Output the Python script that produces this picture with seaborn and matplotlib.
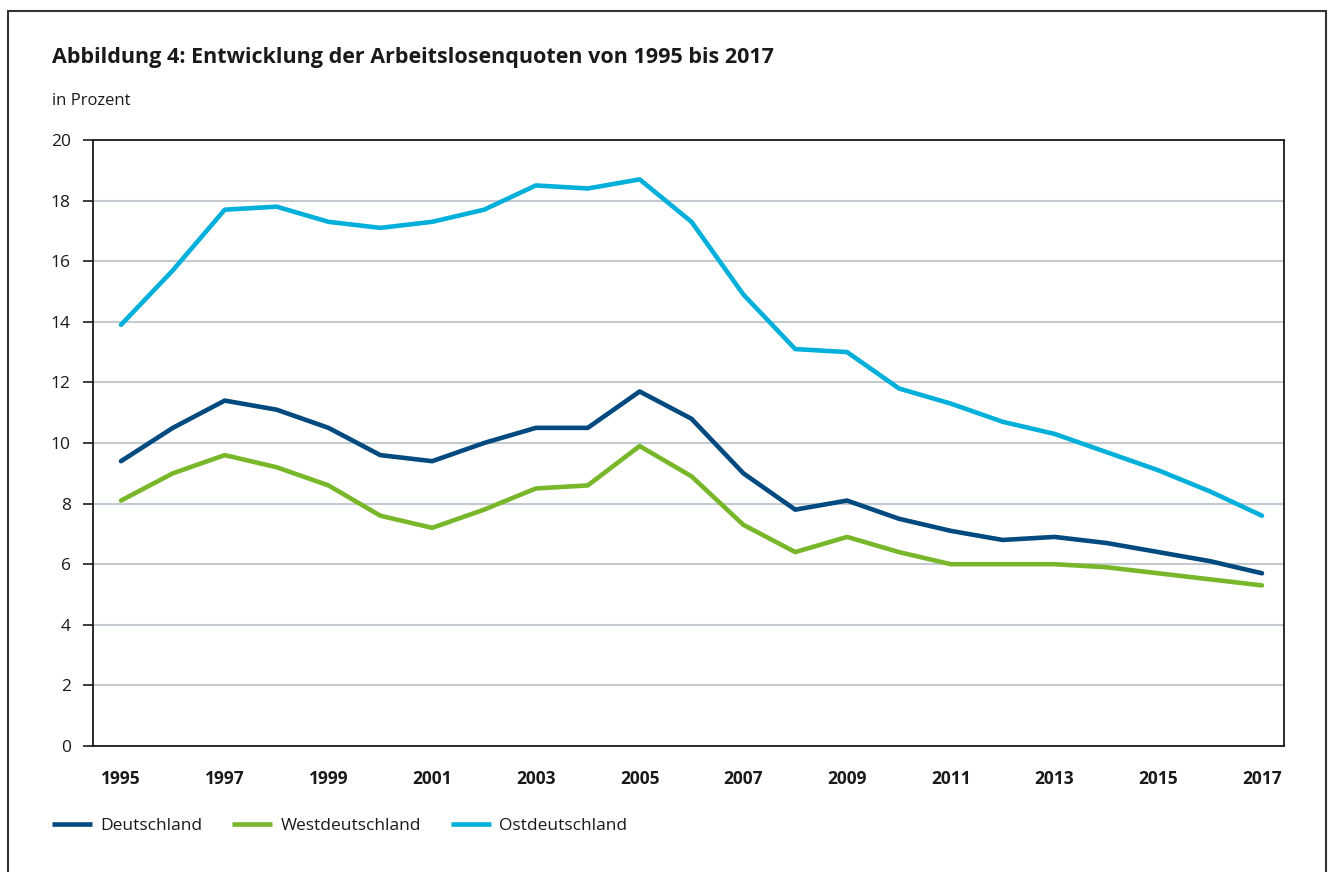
import matplotlib
matplotlib.use("Agg")
import matplotlib.pyplot as plt
import seaborn as sns
import pandas as pd
from matplotlib.patches import Rectangle
from matplotlib.lines import Line2D

years = list(range(1995, 2018))
deutschland = [9.4, 10.5, 11.4, 11.1, 10.5, 9.6, 9.4, 10.0, 10.5, 10.5, 11.7, 10.8,
               9.0, 7.8, 8.1, 7.5, 7.1, 6.8, 6.9, 6.7, 6.4, 6.1, 5.7]
westdeutschland = [8.1, 9.0, 9.6, 9.2, 8.6, 7.6, 7.2, 7.8, 8.5, 8.6, 9.9, 8.9,
                   7.3, 6.4, 6.9, 6.4, 6.0, 6.0, 6.0, 5.9, 5.7, 5.5, 5.3]
ostdeutschland = [13.9, 15.7, 17.7, 17.8, 17.3, 17.1, 17.3, 17.7, 18.5, 18.4, 18.7, 17.3,
                  14.9, 13.1, 13.0, 11.8, 11.3, 10.7, 10.3, 9.7, 9.1, 8.4, 7.6]
series_names = ["Deutschland", "Westdeutschland", "Ostdeutschland"]
colors = ["#004A80", "#78B72A", "#00B0DA"]
x_ticks = list(range(1995, 2018, 2))
y_ticks = list(range(0, 21, 2))
title = "Abbildung 4: Entwicklung der Arbeitslosenquoten von 1995 bis 2017"
unit_label = "in Prozent"

df = pd.concat([
    pd.DataFrame({"Jahr": years, "Quote": vals, "Region": name})
    for name, vals in zip(series_names, [deutschland, westdeutschland, ostdeutschland])
])

sns.set_theme(style="white")
plt.rcParams['font.family'] = ['Open Sans', 'DejaVu Sans']

W, H = 1333, 872
fig = plt.figure(figsize=(W / 100, H / 100), dpi=100)
ax = fig.add_axes([93 / W, 1 - 746 / H, (1284 - 93) / W, (746 - 140) / H])

sns.lineplot(data=df, x="Jahr", y="Quote", hue="Region", hue_order=series_names,
             palette=colors, linewidth=3.3, ax=ax, legend=False, zorder=3)

ax.set_xlim(1995 - 28 / 51.86, 2017 + 22 / 51.86)
ax.set_ylim(0, 20)
ax.set_xticks(x_ticks)
ax.set_xticklabels([str(y) for y in x_ticks], fontweight="bold", fontsize=12.5)
ax.set_yticks(y_ticks)
ax.set_yticklabels([str(v) for v in y_ticks], fontsize=12.5)
ax.set_xlabel("")
ax.set_ylabel("")
ax.grid(axis="y", color="#C3CAD0", linewidth=1.5, zorder=0)
ax.grid(axis="x", visible=False)
ax.set_axisbelow(True)
for s in ax.spines.values():
    s.set_visible(True)
    s.set_color("#1a1a1a")
    s.set_linewidth(1.3)
ax.tick_params(axis="y", which="major", direction="out", length=7, width=1.2,
               color="#1a1a1a", pad=9, left=True, labelcolor="#1a1a1a")
ax.tick_params(axis="x", which="major", length=0, pad=17, labelcolor="#1a1a1a")

fig.text(52 / W, 1 - 57 / H, title, fontsize=15.5, fontweight="bold",
         color="#1a1a1a", va="center", ha="left")
fig.text(52 / W, 1 - 101 / H, unit_label, fontsize=12, color="#1a1a1a",
         va="center", ha="left")

handles = [Line2D([0], [0], color=c, linewidth=3.3, solid_capstyle="butt") for c in colors]
fig.legend(handles, series_names, loc="center left",
           bbox_to_anchor=(52 / W, 1 - 826 / H), ncol=3, frameon=False,
           fontsize=12.5, handlelength=2.3, handletextpad=0.5, columnspacing=1.7,
           borderaxespad=0, borderpad=0, labelcolor="#1a1a1a")

fig.patches.append(Rectangle((8 / W, -0.05), (1326 - 8) / W, 1.05 - 11 / H,
                             transform=fig.transFigure, fill=False,
                             edgecolor="#333333", linewidth=1.5))

fig.savefig("out.png", dpi=100, facecolor="white")
